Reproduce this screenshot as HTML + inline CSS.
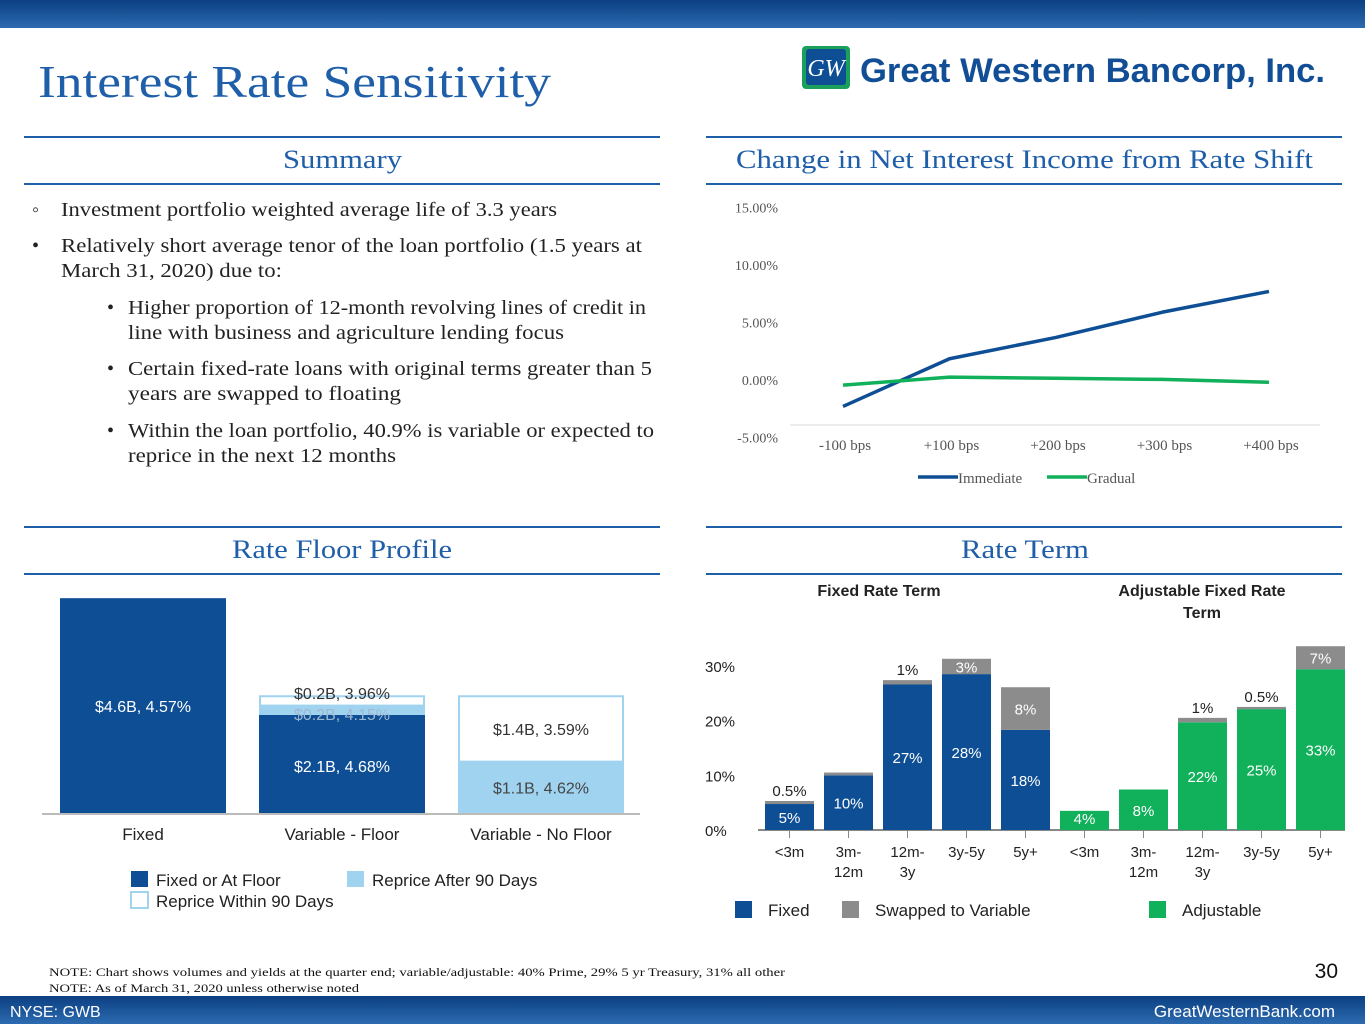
<!DOCTYPE html>
<html><head><meta charset="utf-8"><style>
body{margin:0;width:1365px;height:1024px;overflow:hidden;background:#fff;}
svg{display:block}
.serif{font-family:"Liberation Serif",serif}
.sans{font-family:"Liberation Sans",sans-serif}
</style></head><body>
<svg id="page" width="1365" height="1024" viewBox="0 0 1365 1024">
<defs><linearGradient id="tb" x1="0" x2="0" y1="0" y2="1"><stop offset="0" stop-color="#0b3f82"/><stop offset="1" stop-color="#2d6bb0"/></linearGradient></defs>
<rect x="0" y="0" width="1365" height="28" fill="url(#tb)"/>
<text x="38" y="97" class="serif" font-size="46" fill="#1f5ea8" textLength="513" lengthAdjust="spacingAndGlyphs">Interest Rate Sensitivity</text>
<g>
<rect x="802" y="46" width="48" height="43" rx="4" fill="#1aa05a"/><rect x="806" y="49" width="40" height="36" rx="3" fill="#0d4e95"/>
<text x="826" y="76" class="serif" font-size="24" font-style="italic" fill="#fff" text-anchor="middle">GW</text>
<text x="860" y="82" class="sans" font-size="34" font-weight="bold" fill="#124e96" textLength="465" lengthAdjust="spacingAndGlyphs">Great Western Bancorp, Inc.</text>
</g>
<g stroke="#1f5ea8" stroke-width="2">
<line x1="24" y1="137" x2="660" y2="137"/><line x1="24" y1="184" x2="660" y2="184"/>
<line x1="706" y1="137" x2="1342" y2="137"/><line x1="706" y1="184" x2="1342" y2="184"/>
<line x1="24" y1="527" x2="660" y2="527"/><line x1="24" y1="574" x2="660" y2="574"/>
<line x1="706" y1="527" x2="1342" y2="527"/><line x1="706" y1="574" x2="1342" y2="574"/>
</g>
<g class="serif" font-size="26" fill="#1f5ea8" lengthAdjust="spacingAndGlyphs">
<text x="283" y="168" textLength="119" lengthAdjust="spacingAndGlyphs">Summary</text>
<text x="736" y="168" textLength="577" lengthAdjust="spacingAndGlyphs">Change in Net Interest Income from Rate Shift</text>
<text x="232" y="558" textLength="220" lengthAdjust="spacingAndGlyphs">Rate Floor Profile</text>
<text x="961" y="558" textLength="128" lengthAdjust="spacingAndGlyphs">Rate Term</text>
</g>
<g class="serif" font-size="20" fill="#222">
<text x="32" y="216">◦</text><text x="61" y="216" textLength="496" lengthAdjust="spacingAndGlyphs">Investment portfolio weighted average life of 3.3 years</text>
<text x="32" y="252">•</text><text x="61" y="252" textLength="581" lengthAdjust="spacingAndGlyphs">Relatively short average tenor of the loan portfolio (1.5 years at</text>
<text x="61" y="277" textLength="221" lengthAdjust="spacingAndGlyphs">March 31, 2020) due to:</text>
<text x="107" y="314">•</text><text x="128" y="314" textLength="518" lengthAdjust="spacingAndGlyphs">Higher proportion of 12-month revolving lines of credit in</text>
<text x="128" y="339" textLength="436" lengthAdjust="spacingAndGlyphs">line with business and agriculture lending focus</text>
<text x="107" y="375">•</text><text x="128" y="375" textLength="524" lengthAdjust="spacingAndGlyphs">Certain fixed-rate loans with original terms greater than 5</text>
<text x="128" y="400" textLength="273" lengthAdjust="spacingAndGlyphs">years are swapped to floating</text>
<text x="107" y="437">•</text><text x="128" y="437" textLength="526" lengthAdjust="spacingAndGlyphs">Within the loan portfolio, 40.9% is variable or expected to</text>
<text x="128" y="462" textLength="268" lengthAdjust="spacingAndGlyphs">reprice in the next 12 months</text>
</g>
<g id="linechart"></g>
<g id="floorchart"></g>
<g id="termchart"></g>
<g class="serif" font-size="12" fill="#111">
<text x="49" y="976" textLength="736" lengthAdjust="spacingAndGlyphs">NOTE: Chart shows volumes and yields at the quarter end; variable/adjustable: 40% Prime, 29% 5 yr Treasury, 31% all other</text>
<text x="49" y="992" textLength="310" lengthAdjust="spacingAndGlyphs">NOTE: As of March 31, 2020 unless otherwise noted</text>
</g>
<text x="1338" y="978" class="sans" font-size="21" fill="#111" text-anchor="end">30</text>
<rect x="0" y="996" width="1365" height="28" fill="url(#tb)"/>
<text x="10" y="1017" class="sans" font-size="16" fill="#fff">NYSE: GWB</text>
<text x="1335" y="1017" class="sans" font-size="17" fill="#fff" text-anchor="end">GreatWesternBank.com</text>
</svg>
<script>
// ---- Line chart data ----
const niiCategories = ["-100 bps","+100 bps","+200 bps","+300 bps","+400 bps"];
const niiImmediate = [-2.3, 1.85, 3.7, 5.9, 7.7];
const niiGradual = [-0.45, 0.25, 0.15, 0.05, -0.2];
const niiTicks = [15, 10, 5, 0, -5];
const niiTickLabels = ["15.00%","10.00%","5.00%","0.00%","-5.00%"];
// ---- Rate floor data ----
const floorCategories = ["Fixed","Variable - Floor","Variable - No Floor"];
const floorFixed = [4.6, 2.1, 0];
const floorAfter90 = [0, 0.2, 1.1];
const floorWithin90 = [0, 0.2, 1.4];
const floorLabelsFixed = ["$4.6B, 4.57%","$2.1B, 4.68%",""];
const floorLabelsAfter = ["","$0.2B, 4.15%","$1.1B, 4.62%"];
const floorLabelsWithin = ["","$0.2B, 3.96%","$1.4B, 3.59%"];
// ---- Rate term data ----
const termCategories = ["<3m","3m-\n12m","12m-\n3y","3y-5y","5y+","<3m","3m-\n12m","12m-\n3y","3y-5y","5y+"];
const termBase = [4.75, 10, 26.6, 28.5, 18.3, 3.5, 7.4, 19.7, 22.1, 29.4];
const termSwapped = [0.55, 0.5, 0.8, 2.8, 7.8, 0, 0, 0.8, 0.4, 4.2];
const termBaseLabels = ["5%","10%","27%","28%","18%","4%","8%","22%","25%","33%"];
const termSwapLabels = ["0.5%","","1%","3%","8%","","","1%","0.5%","7%"];
const termTicks = [0,10,20,30];

const NS="http://www.w3.org/2000/svg";
function mk(parent,tag,attrs,text){const e=document.createElementNS(NS,tag);for(const k in attrs)e.setAttribute(k,attrs[k]);if(text!==undefined)e.textContent=text;parent.appendChild(e);return e;}

// Line chart
(function(){
  const g=document.getElementById('linechart');
  const y=v=>380-v*11.5;
  const x=i=>843+i*106.5;
  niiTicks.forEach((t,i)=>{const e=mk(g,'text',{x:778,y:y(t)+5,'text-anchor':'end','font-size':14,fill:'#555','font-family':'Liberation Serif, serif'},niiTickLabels[i]);
    });
  const ax=mk(g,'line',{x1:790,x2:1320,y1:425,y2:425,stroke:'#d9d9d9','stroke-width':1});
  
  niiCategories.forEach((c,i)=>{const e=mk(g,'text',{x:x(i)+2,y:450,'text-anchor':'middle','font-size':15,fill:'#555','font-family':'Liberation Serif, serif'},c);
    });
  [[niiImmediate,'#0d4e95','immediate-line'],[niiGradual,'#11b05a','gradual-line']].forEach(s=>{
    const p=mk(g,'polyline',{points:s[0].map((v,i)=>x(i)+','+y(v)).join(' '),fill:'none',stroke:s[1],'stroke-width':3.5,'stroke-linejoin':'round'});
    });
  const l1=mk(g,'line',{x1:918,x2:958,y1:477,y2:477,stroke:'#0d4e95','stroke-width':3.5});
  
  const t1=mk(g,'text',{x:958,y:483,'font-size':15,fill:'#555','font-family':'Liberation Serif, serif'},'Immediate');
  
  const l2=mk(g,'line',{x1:1047,x2:1087,y1:477,y2:477,stroke:'#11b05a','stroke-width':3.5});
  
  const t2=mk(g,'text',{x:1087,y:483,'font-size':15,fill:'#555','font-family':'Liberation Serif, serif'},'Gradual');
  
})();

// Rate floor chart
(function(){
  const g=document.getElementById('floorchart');
  const base=813, k=46.7;
  const x0=i=>60+i*199, w=166;
  const ax=mk(g,'line',{x1:42,x2:640,y1:base+1,y2:base+1,stroke:'#bbb','stroke-width':2});
  
  floorCategories.forEach((c,i)=>{
    let yb=base;
    const h1=floorFixed[i]*k;
    if(h1>0){const r=mk(g,'rect',{x:x0(i),y:yb-h1,width:w,height:h1,fill:'#0d4e95'});
      mk(g,'text',{x:x0(i)+w/2,y:i==0?712:772,'text-anchor':'middle','font-size':16,fill:'#fff','font-family':'Liberation Sans, sans-serif'},floorLabelsFixed[i]);}
    yb-=h1;
    const h2=floorAfter90[i]*k;
    if(h2>0){const r=mk(g,'rect',{x:x0(i),y:yb-h2,width:w,height:h2,fill:'#9fd3f0'});}
    const ay=yb; yb-=h2;
    const h3=floorWithin90[i]*k;
    if(h3>0){const r=mk(g,'rect',{x:x0(i)+1,y:yb-h3,width:w-2,height:h3,fill:'#fff',stroke:'#9fd3f0','stroke-width':2});}
    if(i==1){
      mk(g,'text',{x:x0(i)+w/2,y:720,'text-anchor':'middle','font-size':16,fill:'#9fb8d0','font-family':'Liberation Sans, sans-serif'},floorLabelsAfter[i]);
      mk(g,'text',{x:x0(i)+w/2,y:699,'text-anchor':'middle','font-size':16,fill:'#333','font-family':'Liberation Sans, sans-serif'},floorLabelsWithin[i]);
    } else if(i==2){
      mk(g,'text',{x:x0(i)+w/2,y:ay-h2/2+6,'text-anchor':'middle','font-size':16,fill:'#444','font-family':'Liberation Sans, sans-serif'},floorLabelsAfter[i]);
      mk(g,'text',{x:x0(i)+w/2,y:yb-h3/2+6,'text-anchor':'middle','font-size':16,fill:'#333','font-family':'Liberation Sans, sans-serif'},floorLabelsWithin[i]);
    }
    const t=mk(g,'text',{x:x0(i)+w/2,y:840,'text-anchor':'middle','font-size':17,fill:'#222','font-family':'Liberation Sans, sans-serif'},c);
    
  });
  const leg=[[130,870,'#0d4e95','Fixed or At Floor'],[346,870,'#9fd3f0','Reprice After 90 Days'],[130,891,'#fff','Reprice Within 90 Days']];
  leg.forEach(L=>{const r=mk(g,'rect',{x:L[0]+1,y:L[1]+1,width:17,height:16,fill:L[2],stroke:L[2]=='#fff'?'#9fd3f0':'none','stroke-width':2});
    
    const t=mk(g,'text',{x:L[0]+26,y:L[1]+16,'font-size':17,fill:'#222','font-family':'Liberation Sans, sans-serif'},L[3]);
    });
})();

// Rate term chart
(function(){
  const g=document.getElementById('termchart');
  const y=v=>830-v*5.47;
  const x=i=>765+i*59;
  const w=49;
  const F='Liberation Sans, sans-serif';
  mk(g,'text',{x:879,y:596,'text-anchor':'middle','font-size':16,'font-weight':'bold',fill:'#222','font-family':F},'Fixed Rate Term');
  mk(g,'text',{x:1202,y:596,'text-anchor':'middle','font-size':16,'font-weight':'bold',fill:'#222','font-family':F},'Adjustable Fixed Rate');
  mk(g,'text',{x:1202,y:618,'text-anchor':'middle','font-size':16,'font-weight':'bold',fill:'#222','font-family':F},'Term');
  termTicks.forEach(t=>{const e=mk(g,'text',{x:705,y:y(t)+6,'font-size':15,fill:'#222','font-family':F},t+'%');
    });
  const ax=mk(g,'line',{x1:758,x2:1345,y1:830,y2:830,stroke:'#888','stroke-width':2});
  
  termCategories.forEach((c,i)=>{
    const col=i<5?'#0d4e95':'#11b05a';
    const b=mk(g,'rect',{x:x(i),y:y(termBase[i]),width:w,height:termBase[i]*5.47,fill:col});
    
    if(termSwapped[i]>0){const s=mk(g,'rect',{x:x(i),y:y(termBase[i]+termSwapped[i]),width:w,height:termSwapped[i]*5.47,fill:'#8c8c8c'});
      }
    mk(g,'line',{x1:x(i)+w/2,x2:x(i)+w/2,y1:831,y2:838,stroke:'#888','stroke-width':1});
    const top=y(termBase[i]+termSwapped[i]);
    mk(g,'text',{x:x(i)+w/2,y:Math.min(y(termBase[i]/2)+6,824),'text-anchor':'middle','font-size':15,fill:'#fff','font-family':F},termBaseLabels[i]);
    const sl=termSwapLabels[i];
    if(sl){const big=termSwapped[i]>2;
      mk(g,'text',{x:x(i)+w/2,y:big?(top+(termSwapped[i]*5.47)/2+6):top-5,'text-anchor':'middle','font-size':15,fill:big?'#fff':'#222','font-family':F},sl);}
    c.split('\n').forEach((ln,j)=>{const t=mk(g,'text',{x:x(i)+w/2,y:857+j*20,'text-anchor':'middle','font-size':15,fill:'#222','font-family':F},ln);
      });
  });
  [[735,'#0d4e95','Fixed',768],[842,'#8c8c8c','Swapped to Variable',875],[1149,'#11b05a','Adjustable',1182]].forEach(L=>{
    const r=mk(g,'rect',{x:L[0],y:901,width:17,height:17,fill:L[1]});
    const t=mk(g,'text',{x:L[3],y:916,'font-size':17,fill:'#222','font-family':F},L[2]);});
})();
</script>
</body></html>
